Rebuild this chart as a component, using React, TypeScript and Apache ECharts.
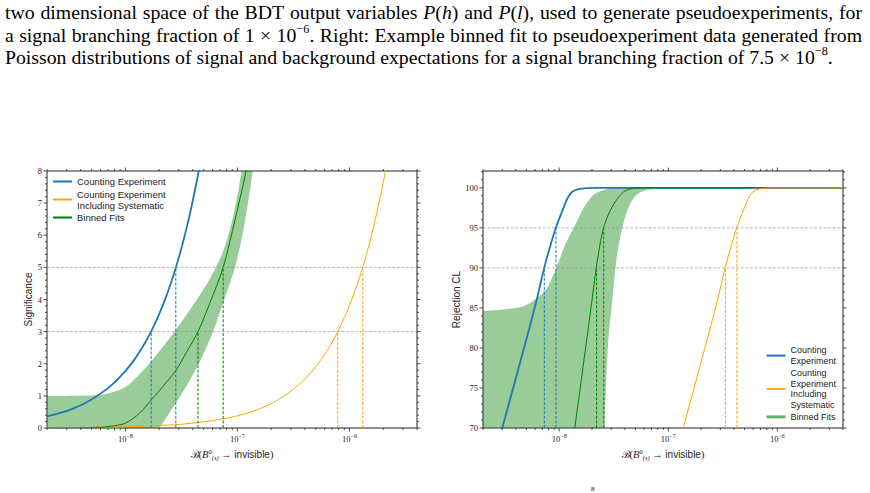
import React, { useEffect, useRef } from "react";
import * as echarts from "echarts";

// ---------- axes ----------
const X_MIN = 2e-9;
const X_MAX = 4e-6;
const X_MAJOR_TICKS = [1e-8, 1e-7, 1e-6];
const X_MINOR_MULTIPLIERS = [2, 3, 4, 5, 6, 7, 8, 9];
const X_DECADES = [1e-9, 1e-8, 1e-7, 1e-6];

const SIG_MIN = 0;
const SIG_MAX = 8;
const SIG_MAJOR_TICKS = [0, 1, 2, 3, 4, 5, 6, 7, 8];
const SIG_MINOR_STEP = 0.2;
const SIG_LEVELS = [3, 5];

const CL_MIN = 70;
const CL_MAX = 102.1;
const CL_MAJOR_TICKS = [70, 75, 80, 85, 90, 95, 100];
const CL_MINOR_STEP = 1;
const CL_LEVELS = [90, 95];

// ---------- left panel: significance ----------
const SIG_BLUE_X = [2e-9, 2.5e-9, 3e-9, 3.5e-9, 4e-9, 5e-9, 6e-9, 7e-9, 8e-9, 9e-9, 1e-8, 1.2e-8, 1.4e-8, 1.6e-8, 1.8e-8, 2e-8, 2.25e-8, 2.5e-8, 2.82e-8, 3.2e-8, 3.6e-8, 4e-8, 4.5e-8, 5e-8];
const SIG_BLUE_Y = [0.36, 0.45, 0.53, 0.62, 0.71, 0.89, 1.07, 1.24, 1.42, 1.6, 1.77, 2.12, 2.48, 2.83, 3.19, 3.54, 3.98, 4.43, 4.99, 5.66, 6.37, 7.08, 7.97, 8.85];

const SIG_ORANGE_X = [2e-9, 5e-9, 1e-8, 2e-8, 3e-8, 5e-8, 7.5e-8, 1e-7, 1.5e-7, 2e-7, 3e-7, 4e-7, 5e-7, 6e-7, 7e-7, 7.85e-7, 9e-7, 1e-6, 1.15e-6, 1.315e-6, 1.5e-6, 1.75e-6, 2e-6, 2.3e-6];
const SIG_ORANGE_Y = [0.01, 0.02, 0.04, 0.08, 0.11, 0.19, 0.29, 0.38, 0.57, 0.76, 1.15, 1.53, 1.91, 2.29, 2.67, 3.0, 3.44, 3.82, 4.39, 5.0, 5.73, 6.69, 7.64, 8.79];

const SIG_GREEN_X = [2e-9, 4e-9, 6e-9, 8e-9, 1e-8, 1.34e-8, 1.7e-8, 2.16e-8, 2.82e-8, 3.5e-8, 4.45e-8, 5.66e-8, 7.46e-8, 9.5e-8, 1.2e-7, 1.4e-7];
const SIG_GREEN_Y = [0.0, 0.003, 0.02, 0.07, 0.15, 0.46, 0.87, 1.29, 1.79, 2.35, 3.0, 3.88, 5.0, 6.47, 8.03, 9.3];

const SIG_BAND_UPPER_X = [1e-9, 2e-9, 3e-9, 4.75e-9, 7.19e-9, 1.014e-8, 1.43e-8, 2.02e-8, 2.85e-8, 4.02e-8, 5.66e-8, 7.46e-8, 9.17e-8, 1.09e-7, 1.25e-7];
const SIG_BAND_UPPER_Y = [1.0, 1.0, 1.0, 1.01, 1.08, 1.29, 1.78, 2.4, 3.08, 3.82, 4.64, 5.5, 6.6, 8.0, 9.5];
const SIG_BAND_LOWER_X = [1e-9, 1.6e-8, 2.02e-8, 2.3e-8, 2.85e-8, 3.5e-8, 4.45e-8, 6.06e-8, 7.46e-8, 9.5e-8, 1.15e-7, 1.37e-7, 1.6e-7];
const SIG_BAND_LOWER_Y = [-0.6, -0.6, 0.0, 0.3, 0.8, 1.3, 1.95, 3.0, 3.9, 5.0, 6.3, 8.0, 9.8];

const SIG_BLUE_CROSS = [1.7e-8, 2.82e-8];
const SIG_GREEN_CROSS = [4.45e-8, 7.46e-8];
const SIG_ORANGE_CROSS = [7.85e-7, 1.315e-6];

// ---------- right panel: rejection CL ----------
const CL_BLUE_X = [2.5e-9, 3.01e-9, 4.07e-9, 5.4e-9, 6.21e-9, 7.3e-9, 8.22e-9, 9.33e-9, 1.088e-8, 1.18e-8, 1.3e-8, 1.5e-8, 1.8e-8, 2.3e-8, 4e-6];
const CL_BLUE_Y = [66, 70.05, 76.6, 82.8, 86.0, 90.05, 92.6, 95.05, 97.4, 98.6, 99.45, 99.85, 99.97, 100, 100];

const CL_ORANGE_X = [1.14e-7, 1.373e-7, 1.856e-7, 2.46e-7, 2.83e-7, 3.33e-7, 3.75e-7, 4.25e-7, 4.96e-7, 5.38e-7, 5.93e-7, 6.84e-7, 8.2e-7, 1.05e-6, 4e-6];
const CL_ORANGE_Y = [66, 70.05, 76.6, 82.8, 86.0, 90.05, 92.6, 95.05, 97.4, 98.6, 99.45, 99.85, 99.97, 100, 100];

const CL_GREEN_X = [1.24e-8, 1.39e-8, 1.556e-8, 1.73e-8, 1.92e-8, 2.19e-8, 2.39e-8, 2.56e-8, 2.81e-8, 3.34e-8, 4.12e-8, 5.86e-8, 4e-6];
const CL_GREEN_Y = [65, 70.05, 74.96, 79.6, 84.2, 90.05, 93.25, 95.05, 96.6, 98.46, 99.7, 100, 100];

const CL_BAND_UPPER_X = [1e-9, 2e-9, 3.08e-9, 4.69e-9, 6.21e-9, 7.66e-9, 8.81e-9, 1.014e-8, 1.166e-8, 1.39e-8, 1.66e-8, 2.05e-8, 2.52e-8, 3.34e-8, 5e-6];
const CL_BAND_UPPER_Y = [84.6, 84.63, 84.8, 85.2, 86.2, 87.4, 89.1, 91.2, 93.25, 95.3, 97.4, 99.1, 99.7, 100, 100];
const CL_BAND_LOWER_X = [1e-9, 2.61e-8, 2.62e-8, 2.67e-8, 2.81e-8, 3.01e-8, 3.23e-8, 3.46e-8, 3.84e-8, 4.27e-8, 5.09e-8, 6.28e-8, 8.32e-8, 1.5e-7, 4e-7, 8.5e-7, 5e-6];
const CL_BAND_LOWER_Y = [60, 60, 70, 74.5, 80.75, 84.9, 89.1, 92.4, 95.3, 97.4, 99.1, 99.7, 99.85, 99.85, 99.85, 100, 100];

const CL_BLUE_CROSS = [7.3e-9, 9.33e-9];
const CL_GREEN_CROSS = [2.2e-8, 2.56e-8];
const CL_ORANGE_CROSS = [3.34e-7, 4.26e-7];

// ---------- texts ----------
const NAME_CE = "Counting Experiment";
const NAME_CES = "Counting Experiment Including Systematic";
const NAME_BF = "Binned Fits";
const RIGHT_LEGEND_TEXT: Record<string, string> = {
  [NAME_CE]: "Counting\nExperiment",
  [NAME_CES]: "Counting\nExperiment\nIncluding\nSystematic",
  [NAME_BF]: "Binned Fits",
};
const Y_NAME_LEFT = "Significance";
const Y_NAME_RIGHT = "Rejection CL";

const CAPTION_LINES = [
  "two dimensional space of the BDT output variables |P|(|h|) and |P|(|l|), used to generate pseudoexperiments, for",
  "a signal branching fraction of 1 × 10^−6^. Right: Example binned fit to pseudoexperiment data generated from",
  "Poisson distributions of signal and background expectations for a signal branching fraction of 7.5 × 10^−8^.",
];
const CAPTION_JUSTIFY = [true, true, false];
const CAPTION_Y = [12, 34.5, 56.5];

// ---------- style ----------
const SERIF = '"Liberation Serif", "DejaVu Serif", serif';
const SANS = '"Liberation Sans", "DejaVu Sans", sans-serif';
const INK = "#222";
const C_BLUE = "#1f77b4";
const C_ORANGE = "#ffa500";
const C_GREEN = "#008000";
const C_BAND = "rgba(0,128,0,0.4)";
const C_GRID_DASH = "rgba(140,140,140,0.6)";

const zip = (xs: number[], ys: number[]) => xs.map((x, i) => [x, ys[i]]);

function range(a: number, b: number, step: number) {
  const out: number[] = [];
  const n = Math.round((b - a) / step);
  for (let i = 0; i <= n; i++) out.push(+(a + i * step).toFixed(6));
  return out;
}

function lineSeries(name: string | undefined, gi: number, data: number[][], color: string, width: number, z = 3) {
  return {
    type: "line",
    name,
    xAxisIndex: gi,
    yAxisIndex: gi,
    data,
    symbol: "none",
    smooth: 0.3,
    silent: true,
    z,
    clip: true,
    lineStyle: { color, width },
    itemStyle: { color },
  };
}

function dashedSeries(gi: number, data: number[][], color: string) {
  return {
    type: "line",
    xAxisIndex: gi,
    yAxisIndex: gi,
    data,
    symbol: "none",
    silent: true,
    z: 4,
    lineStyle: { color, width: 1, type: [3, 1.6] },
  };
}

function bandSeries(gi: number, ux: number[], uy: number[], lx: number[], ly: number[]) {
  return {
    type: "custom",
    xAxisIndex: gi,
    yAxisIndex: gi,
    silent: true,
    z: 1,
    clip: true,
    data: [[ux[1], uy[1]]],
    renderItem: (params: any, api: any) => {
      const cs = params.coordSys;
      const pts: number[][] = [];
      ux.forEach((x, i) => pts.push(api.coord([x, uy[i]])));
      for (let i = lx.length - 1; i >= 0; i--) pts.push(api.coord([lx[i], ly[i]]));
      return {
        type: "polygon",
        shape: { points: pts, smooth: 0.3 },
        style: { fill: C_BAND },
        clipPath: { type: "rect", shape: { x: cs.x, y: cs.y, width: cs.width, height: cs.height } },
      };
    },
  };
}

function tickSeries(gi: number, yMajor: number[], yMinor: number[]) {
  const xMinor: number[] = [];
  X_DECADES.forEach((d) =>
    X_MINOR_MULTIPLIERS.forEach((m) => {
      const v = m * d;
      if (v >= X_MIN * 0.999 && v <= X_MAX * 1.001) xMinor.push(v);
    })
  );
  return {
    type: "custom",
    xAxisIndex: gi,
    yAxisIndex: gi,
    silent: true,
    z: 6,
    clip: false,
    data: [[X_MIN, yMajor[0]]],
    renderItem: (params: any, api: any) => {
      const cs = params.coordSys;
      const L = cs.x, R = cs.x + cs.width, T = cs.y, B = cs.y + cs.height;
      const kids: any[] = [];
      const seg = (x1: number, y1: number, x2: number, y2: number) =>
        kids.push({ type: "line", shape: { x1, y1, x2, y2 }, style: { stroke: INK, lineWidth: 0.8 } });
      const y0 = yMajor[0];
      for (const v of X_MAJOR_TICKS) {
        const px = api.coord([v, y0])[0];
        seg(px, B, px, B + 3.5);
        seg(px, T, px, T - 3.5);
      }
      for (const v of xMinor) {
        const px = api.coord([v, y0])[0];
        seg(px, B, px, B + 2);
        seg(px, T, px, T - 2);
      }
      for (const v of yMajor) {
        const py = api.coord([X_MIN, v])[1];
        seg(L, py, L - 3.5, py);
        seg(R, py, R + 3.5, py);
      }
      for (const v of yMinor) {
        const py = api.coord([X_MIN, v])[1];
        seg(L, py, L - 2, py);
        seg(R, py, R + 2, py);
      }
      return { type: "group", children: kids };
    },
  };
}

function xLabel(v: number) {
  const e = Math.log10(v);
  const r = Math.round(e);
  if (Math.abs(e - r) > 1e-6) return "";
  return `{b|10}{s|−${-r}}`;
}

const X_LABEL_RICH = {
  b: { fontFamily: SERIF, fontSize: 8.5, color: INK },
  s: { fontFamily: SERIF, fontSize: 6, color: INK, padding: [0, 0, 5, 0] },
};

const X_NAME = "{sc|ℬ}{m|(}{it|B}{sup|0}{sub|(s)}{m| → }{n|invisible}{m|)}";
const X_NAME_STYLE = {
  color: INK,
  fontSize: 10,
  fontFamily: SANS,
  rich: {
    sc: { fontFamily: '"DejaVu Serif", serif', fontSize: 10, color: INK },
    m: { fontFamily: SERIF, fontSize: 10.5, color: INK },
    it: { fontFamily: SERIF, fontSize: 10.5, fontStyle: "italic", color: INK },
    sup: { fontFamily: SERIF, fontSize: 6.5, color: INK, padding: [0, 0, 7, 0] },
    sub: { fontFamily: SERIF, fontSize: 6.5, fontStyle: "italic", color: INK, padding: [6, 0, 0, 0] },
    n: { fontFamily: SANS, fontSize: 10, color: INK },
  },
};

function xAxis(gi: number) {
  return {
    type: "log",
    logBase: 10,
    gridIndex: gi,
    min: X_MIN,
    max: X_MAX,
    axisLine: { show: false },
    axisTick: { show: false },
    minorTick: { show: false },
    splitLine: { show: false },
    axisLabel: { formatter: xLabel, rich: X_LABEL_RICH, margin: 5 },
    name: X_NAME,
    nameLocation: "middle",
    nameGap: 14,
    nameTextStyle: X_NAME_STYLE,
  };
}

function parseSegments(word: string) {
  const segs: { t: string; k: string }[] = [];
  let mode = "r";
  let buf = "";
  for (const ch of word) {
    if (ch === "|" || ch === "^") {
      if (buf) segs.push({ t: buf, k: mode });
      buf = "";
      const target = ch === "|" ? "i" : "s";
      mode = mode === target ? "r" : target;
    } else buf += ch;
  }
  if (buf) segs.push({ t: buf, k: mode });
  return segs;
}

function buildCaption(): any[] {
  const ctx = document.createElement("canvas").getContext("2d") as CanvasRenderingContext2D;
  const fontSizeOf = (k: string, size: number) => (k === "s" ? size * 0.62 : size);
  const measure = (t: string, k: string, size: number) => {
    ctx.font = `${k === "i" ? "italic " : ""}${fontSizeOf(k, size).toFixed(2)}px ${SERIF}`;
    return ctx.measureText(t).width;
  };
  const lines = CAPTION_LINES.map((l) => l.split(" ").map(parseSegments));
  const lineWidth = (words: any[], size: number) =>
    words.reduce((s, w) => s + w.reduce((a: number, g: any) => a + measure(g.t, g.k, size), 0), 0);
  const last = lines[lines.length - 1];
  const w17 = lineWidth(last, 17) + measure(" ", "r", 17) * (last.length - 1);
  const size = (17 * 828) / w17;
  const els: any[] = [];
  lines.forEach((words, li) => {
    const ww = words.map((w: any) => w.reduce((a: number, g: any) => a + measure(g.t, g.k, size), 0));
    const total = ww.reduce((a: number, b: number) => a + b, 0);
    const gap = CAPTION_JUSTIFY[li] ? (857 - total) / (words.length - 1) : measure(" ", "r", size);
    let x = 5;
    words.forEach((w: any, wi: number) => {
      let cx = x;
      w.forEach((g: any) => {
        els.push({
          type: "text",
          x: cx,
          y: g.k === "s" ? CAPTION_Y[li] - size * 0.3 : CAPTION_Y[li],
          silent: true,
          style: {
            text: g.t,
            fontFamily: SERIF,
            fontSize: fontSizeOf(g.k, size),
            fontStyle: g.k === "i" ? "italic" : "normal",
            fill: "#000",
            verticalAlign: "middle",
            align: "left",
          },
        });
        cx += measure(g.t, g.k, size);
      });
      x += ww[wi] + gap;
    });
  });
  els.push({
    type: "text",
    x: 591,
    y: 489,
    silent: true,
    style: { text: "8", fontFamily: SERIF, fontSize: 7, fill: "#000", verticalAlign: "middle", align: "left" },
  });
  return els;
}

export default function App() {
  const ref = useRef<HTMLDivElement>(null);
  useEffect(() => {
    if (!ref.current) return;
    const chart = echarts.init(ref.current, undefined, { renderer: "svg" });

    const sigMinor = range(SIG_MIN, SIG_MAX, SIG_MINOR_STEP).filter((v) => !SIG_MAJOR_TICKS.includes(v));
    const clMinor = range(CL_MIN, Math.floor(CL_MAX), CL_MINOR_STEP).filter((v) => !CL_MAJOR_TICKS.includes(v));

    const series: any[] = [
      // left panel
      bandSeries(0, SIG_BAND_UPPER_X, SIG_BAND_UPPER_Y, SIG_BAND_LOWER_X, SIG_BAND_LOWER_Y),
      lineSeries(NAME_CE, 0, zip(SIG_BLUE_X, SIG_BLUE_Y), C_BLUE, 1.8),
      lineSeries(NAME_CES, 0, zip(SIG_ORANGE_X, SIG_ORANGE_Y), C_ORANGE, 1),
      lineSeries(NAME_BF, 0, zip(SIG_GREEN_X, SIG_GREEN_Y), C_GREEN, 1),
      ...SIG_LEVELS.map((l) => dashedSeries(0, [[X_MIN, l], [X_MAX, l]], C_GRID_DASH)),
      ...SIG_LEVELS.map((l, i) => dashedSeries(0, [[SIG_BLUE_CROSS[i], SIG_MIN], [SIG_BLUE_CROSS[i], l]], C_BLUE)),
      ...SIG_LEVELS.map((l, i) => dashedSeries(0, [[SIG_GREEN_CROSS[i], SIG_MIN], [SIG_GREEN_CROSS[i], l]], C_GREEN)),
      ...SIG_LEVELS.map((l, i) => dashedSeries(0, [[SIG_ORANGE_CROSS[i], SIG_MIN], [SIG_ORANGE_CROSS[i], l]], C_ORANGE)),
      tickSeries(0, SIG_MAJOR_TICKS, sigMinor),
      // right panel
      bandSeries(1, CL_BAND_UPPER_X, CL_BAND_UPPER_Y, CL_BAND_LOWER_X, CL_BAND_LOWER_Y),
      lineSeries(NAME_CE, 1, zip(CL_BLUE_X, CL_BLUE_Y), C_BLUE, 1.8),
      lineSeries(NAME_BF, 1, zip(CL_GREEN_X, CL_GREEN_Y), C_GREEN, 1),
      lineSeries(NAME_CES, 1, zip(CL_ORANGE_X, CL_ORANGE_Y), C_ORANGE, 1),
      ...CL_LEVELS.map((l) => dashedSeries(1, [[X_MIN, l], [X_MAX, l]], C_GRID_DASH)),
      ...CL_LEVELS.map((l, i) => dashedSeries(1, [[CL_BLUE_CROSS[i], CL_MIN], [CL_BLUE_CROSS[i], l]], C_BLUE)),
      ...CL_LEVELS.map((l, i) => dashedSeries(1, [[CL_GREEN_CROSS[i], CL_MIN], [CL_GREEN_CROSS[i], l]], C_GREEN)),
      ...CL_LEVELS.map((l, i) => dashedSeries(1, [[CL_ORANGE_CROSS[i], CL_MIN], [CL_ORANGE_CROSS[i], l]], C_ORANGE)),
      tickSeries(1, CL_MAJOR_TICKS, clMinor),
    ];

    chart.setOption({
      animation: false,
      backgroundColor: "#fff",
      graphic: buildCaption(),
      grid: [
        { left: 47, top: 171, width: 370, height: 257, show: true, borderColor: INK, borderWidth: 1, backgroundColor: "transparent" },
        { left: 483, top: 171, width: 360, height: 257, show: true, borderColor: INK, borderWidth: 1, backgroundColor: "transparent" },
      ],
      xAxis: [xAxis(0), xAxis(1)],
      yAxis: [
        {
          type: "value",
          gridIndex: 0,
          min: SIG_MIN,
          max: SIG_MAX,
          interval: 1,
          axisLine: { show: false },
          axisTick: { show: false },
          splitLine: { show: false },
          axisLabel: { fontFamily: SERIF, fontSize: 8.5, color: INK, margin: 5 },
          name: Y_NAME_LEFT,
          nameLocation: "middle",
          nameGap: 14,
          nameTextStyle: { fontFamily: SANS, fontSize: 10, color: INK },
        },
        {
          type: "value",
          gridIndex: 1,
          min: CL_MIN,
          max: CL_MAX,
          interval: 5,
          axisLine: { show: false },
          axisTick: { show: false },
          splitLine: { show: false },
          axisLabel: {
            fontFamily: SERIF,
            fontSize: 8.5,
            color: INK,
            margin: 5,
            formatter: (v: number) => (Math.abs(v % 5) < 1e-9 ? String(v) : ""),
          },
          name: Y_NAME_RIGHT,
          nameLocation: "middle",
          nameGap: 21,
          nameTextStyle: { fontFamily: SANS, fontSize: 10, color: INK },
        },
      ],
      legend: [
        {
          left: 52,
          top: 176,
          orient: "vertical",
          padding: 0,
          itemGap: 1.5,
          itemWidth: 19,
          itemHeight: 1,
          selectedMode: false,
          data: [NAME_CE, NAME_CES, NAME_BF],
          formatter: (n: string) => (n === NAME_CES ? "Counting Experiment\nIncluding Systematic" : n),
          textStyle: { fontFamily: SANS, fontSize: 9.5, color: INK, lineHeight: 11 },
        },
        {
          left: 765,
          top: 345,
          orient: "vertical",
          padding: 0,
          itemGap: 1.5,
          itemWidth: 19,
          itemHeight: 1,
          selectedMode: false,
          data: [NAME_CE, NAME_CES, { name: NAME_BF, lineStyle: { color: "#66b366", width: 3 } }],
          formatter: (n: string) => RIGHT_LEGEND_TEXT[n] ?? n,
          textStyle: { fontFamily: SANS, fontSize: 9, color: INK, lineHeight: 10.6 },
        },
      ],
      series,
    });

    return () => chart.dispose();
  }, []);

  return (
    <div
      ref={ref}
      style={{ position: "fixed", left: 0, top: 0, width: 870, height: 493, background: "#fff" }}
    />
  );
}
